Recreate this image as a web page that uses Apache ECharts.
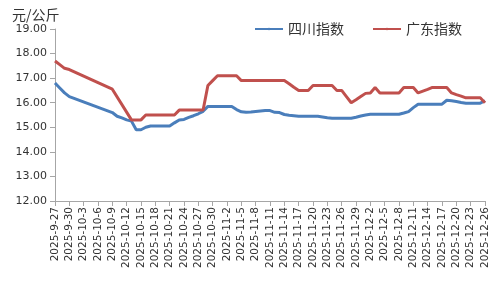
<!DOCTYPE html>
<html><head><meta charset="utf-8">
<script src="https://cdn.jsdelivr.net/npm/echarts@6/dist/echarts.min.js"></script>
<style>html,body{margin:0;padding:0;background:#fff}#c{width:500px;height:300px}</style>
</head><body><div id="c"></div>
<script>
const startDate = [2025, 9, 27];
const dayCount = 91;
const yTicks = [12, 13, 14, 15, 16, 17, 18, 19];
const seriesNames = ['四川指数', '广东指数'];
const yUnit = '元/公斤';

// 四川指数 (daily, null = no data, line connected)
const sichuan = [
  16.8, 16.6, 16.4, 16.25, null, null, null, null, null, null,
  null, null, 15.6, 15.45, 15.38, 15.3, 15.25, 14.9, 14.9, 15.0,
  15.05, 15.05, 15.05, 15.05, 15.05, 15.18, 15.3, 15.32, 15.4, 15.47,
  15.55, 15.65, 15.85, 15.85, 15.85, 15.85, 15.85, 15.85, 15.72, 15.63,
  15.61, 15.62, 15.64, 15.66, 15.68, 15.68, 15.61, 15.6, 15.52, 15.49,
  15.47, 15.45, 15.45, 15.45, 15.45, 15.45, 15.42, 15.39, 15.37, 15.37,
  15.37, 15.37, 15.37, 15.41, 15.46, 15.5, 15.53, 15.53, 15.53, 15.53,
  15.53, 15.53, 15.53, 15.58, 15.64, 15.8, 15.94, 15.94, 15.94, 15.94,
  15.94, 15.94, 16.1, 16.08, 16.05, 16.01, 15.98, 15.98, 15.98, 15.98,
  16.08
];
// 广东指数
const guangdong = [
  17.7, 17.55, 17.4, 17.35, null, null, null, null, null, null,
  null, null, 16.55, null, null, null, 15.3, 15.3, 15.3, 15.5,
  15.5, 15.5, 15.5, 15.5, 15.5, 15.5, 15.7, 15.7, 15.7, 15.7,
  15.7, 15.7, 16.7, 16.9, 17.1, 17.1, 17.1, 17.1, 17.1, 16.9,
  16.9, 16.9, 16.9, 16.9, 16.9, 16.9, 16.9, 16.9, 16.9, 16.77,
  16.63, 16.5, 16.5, 16.5, 16.7, 16.7, 16.7, 16.7, 16.7, 16.5,
  16.5, 16.25, 16.0, 16.12, 16.25, 16.38, 16.4, 16.62, 16.4, 16.4,
  16.4, 16.4, 16.4, 16.62, 16.62, 16.62, 16.4, 16.47, 16.54, 16.62,
  16.62, 16.62, 16.62, 16.4, 16.33, 16.27, 16.2, 16.2, 16.2, 16.2,
  16.0
];

const categories = [];
for (let i = 0; i < dayCount; i++) {
  const d = new Date(startDate[0], startDate[1] - 1, startDate[2] + i);
  categories.push(d.getFullYear() + '-' + (d.getMonth() + 1) + '-' + d.getDate());
}

const chart = echarts.init(document.getElementById('c'), null, {renderer: 'canvas'});
const txt = '#333';
const axisCol = '#a6a6a6';
chart.setOption({
  animation: false,
  backgroundColor: '#fff',
  title: {
    text: yUnit, left: 7, top: 3,
    textStyle: {fontSize: 14, fontWeight: 'normal', color: txt, fontFamily: 'Noto Sans CJK SC'}
  },
  legend: {
    left: 249, top: 17, itemWidth: 28, itemHeight: 3, itemGap: 28,
    textStyle: {fontSize: 14, color: txt, fontFamily: 'Noto Sans CJK SC'},
    data: seriesNames
  },
  grid: {left: 55, right: 15, top: 29, bottom: 99, containLabel: false},
  xAxis: {
    type: 'category', data: categories, boundaryGap: false,
    axisLine: {lineStyle: {color: axisCol}},
    axisTick: {show: true, interval: 2, length: 5, lineStyle: {color: axisCol}},
    axisLabel: {interval: 2, rotate: 90, fontSize: 10.5, color: txt, fontFamily: 'DejaVu Sans', margin: 6},
    splitLine: {show: false}
  },
  yAxis: {
    type: 'value', min: yTicks[0], max: yTicks[yTicks.length - 1], interval: 1,
    axisLine: {show: true, lineStyle: {color: axisCol}},
    axisTick: {show: true, length: 5, lineStyle: {color: axisCol}},
    axisLabel: {formatter: v => v.toFixed(2), fontSize: 11, color: txt, fontFamily: 'DejaVu Sans', margin: 8},
    splitLine: {show: false}
  },
  series: [
    {name: seriesNames[0], type: 'line', data: sichuan, symbol: 'none', connectNulls: true,
     lineStyle: {width: 3, color: '#4a7ebb'}, itemStyle: {color: '#4a7ebb'}},
    {name: seriesNames[1], type: 'line', data: guangdong, symbol: 'none', connectNulls: true,
     lineStyle: {width: 3, color: '#c0504d'}, itemStyle: {color: '#c0504d'}}
  ]
});
</script></body></html>
